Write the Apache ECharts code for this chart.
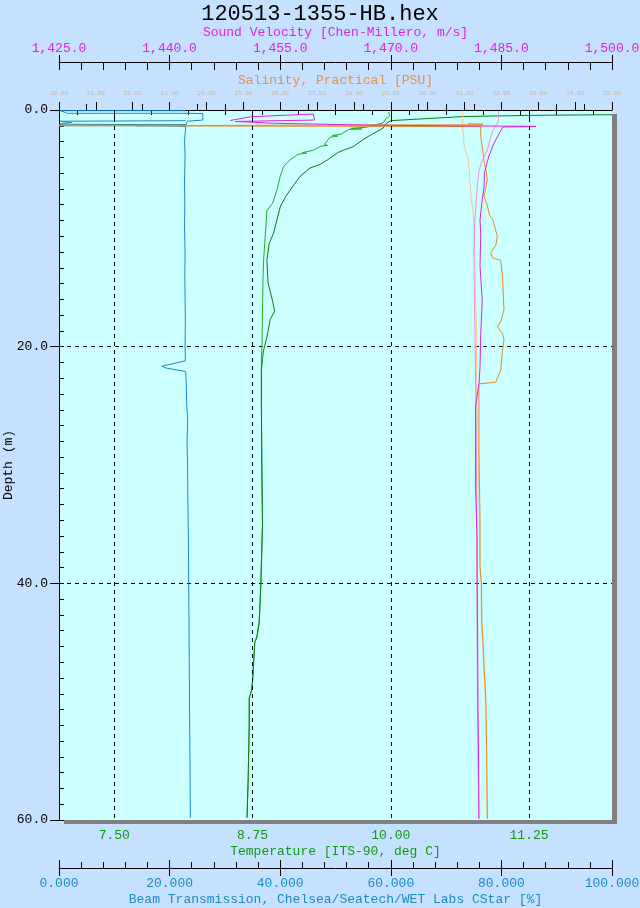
<!DOCTYPE html>
<html><head><meta charset="utf-8">
<script src="https://cdn.jsdelivr.net/npm/echarts@6/dist/echarts.min.js"></script>
<style>html,body{margin:0;padding:0;background:#c6e0ff}#c{width:640px;height:908px}</style>
</head><body><div id="c"></div><script>
// ---------- data: [value, depth(m)] ----------
const tempDown = [[9.98,0.15],[9.99,0.5],[9.96,0.7],[9.93,1.1],[9.78,1.45],[9.64,1.55],[9.74,1.6],[9.62,1.65],[9.55,2.05],[9.47,2.15],[9.52,2.2],[9.45,2.3],[9.40,2.9],[9.43,3.0],[9.37,3.05],[9.30,3.4],[9.20,3.6],[9.24,3.65],[9.16,3.75],[9.09,4.2],[9.03,4.8],[9.00,5.6],[8.97,6.8],[8.93,7.9],[8.88,8.5],[8.87,9.9],[8.86,11.3],[8.85,12.7],[8.845,14.1],[8.84,16.9],[8.836,19.7],[8.83,21],[8.83,22],[8.83,25],[8.834,30],[8.84,35],[8.825,40],[8.81,43.3],[8.79,44.5],[8.77,45],[8.75,48.3],[8.74,49.1],[8.72,49.7],[8.72,52],[8.71,56.7],[8.70,59.8]];
const tempUp = [[12.0,0.4],[11.3,0.45],[10.66,0.55],[10.0,0.9],[9.95,1.2],[9.93,1.54],[9.82,2.1],[9.75,2.5],[9.66,3.1],[9.57,3.4],[9.52,3.6],[9.43,4.2],[9.36,4.6],[9.27,4.9],[9.18,5.6],[9.11,6.5],[9.05,7.3],[9.00,8.2],[8.97,9.3],[8.94,10.4],[8.90,11.3],[8.88,12.7],[8.89,14.6],[8.93,16.1],[8.95,17.0],[8.91,17.7],[8.88,19.2],[8.85,20.3],[8.84,21],[8.83,22],[8.83,25],[8.834,30],[8.84,35],[8.825,40],[8.81,43.3],[8.79,44.5],[8.77,45],[8.75,48.3],[8.74,49.1],[8.72,49.7],[8.72,52],[8.71,56.7],[8.70,59.8]];
const beamDown = [[22.9,0.06],[0.3,0.06],[0.3,0.1],[1.5,0.28],[22.8,0.28],[23.0,0.2],[26.0,0.3],[26.0,0.85],[23.2,0.95],[22.9,1.3],[22.9,1.6],[22.7,2.5],[22.8,4],[22.7,6],[22.75,8],[22.7,10],[22.8,12],[22.75,14],[22.8,16],[22.85,18],[22.8,20],[22.85,21.2],[18.6,21.65],[19.3,21.8],[22.9,22.1],[23.0,23],[23.1,25],[23.25,26],[23.2,27.6],[23.15,28],[23.25,30],[23.3,33],[23.4,36],[23.45,40],[23.5,43],[23.55,46],[23.6,50],[23.65,53],[23.7,56],[23.75,59.8]];
const beamUp = [[22.9,0.9],[0.2,0.95],[2.3,1.05],[0.5,1.15],[0.1,1.2],[22.9,1.25],[22.9,1.33],[14.0,1.33],[21.0,1.36],[22.9,1.4]];
const salDown = [[31.1,1.15],[31.5,1.2],[31.3,1.25],[20.0,1.33],[31.44,1.4],[31.44,2.2],[31.49,3.4],[31.54,4.5],[31.58,5.0],[31.62,5.9],[31.53,7.3],[31.62,8.1],[31.68,8.9],[31.76,9.2],[31.89,10.7],[31.85,11.4],[31.71,12.1],[31.76,12.5],[31.98,12.7],[32.03,14.1],[32.07,16.9],[31.98,17.9],[31.89,18.3],[32.03,18.9],[32.07,19.4],[32.03,20.3],[31.98,22.0],[31.85,23.0],[31.89,23.1],[31.39,23.15],[31.39,28.7],[31.42,34.4],[31.42,38.6],[31.46,40],[31.47,43.4],[31.50,44.8],[31.53,47],[31.58,49.9],[31.60,54.1],[31.62,59.9]];
const salUp = [[30.94,0.05],[30.96,0.8],[30.94,1.3],[30.97,2.0],[30.99,3.1],[31.03,3.5],[31.08,3.9],[31.12,4.8],[31.15,6.2],[31.19,7.6],[31.23,8.5],[31.26,10.4],[31.29,13.2],[31.30,16.1],[31.33,18.9],[31.32,23.1],[31.37,28],[31.40,34],[31.41,38],[31.45,40],[31.46,43],[31.49,45],[31.52,47],[31.57,50],[31.59,54],[31.61,59.9]];
const svDown = [[1448.2,0.89],[1451.0,0.57],[1459.5,0.34],[1459.65,0.85],[1448.9,0.97],[1454.1,1.12],[1466.3,1.27],[1476.8,1.33],[1489.7,1.38],[1485.2,1.44],[1484.7,2.0],[1484.0,2.8],[1483.3,3.9],[1482.7,5.3],[1482.65,6.5],[1482.4,7.6],[1482.2,8.7],[1482.1,9.3],[1482.2,10.4],[1482.1,13.2],[1482.4,16.1],[1482.2,18.9],[1482.1,21.7],[1481.97,23.1],[1481.5,25],[1481.5,27],[1481.5,32],[1481.7,36],[1481.72,40],[1481.78,45],[1481.82,50],[1481.9,55],[1481.95,59.9]];
const svUp = [[1484.6,0.1],[1484.6,0.85],[1484.47,1.1],[1483.8,1.8],[1483.46,2.5],[1483.1,3.4],[1482.43,4.2],[1481.97,5.1],[1481.76,6.2],[1481.6,7.6],[1481.39,9.3],[1481.28,12],[1481.35,16],[1481.45,20],[1481.52,24],[1481.6,28],[1481.65,32],[1481.66,38],[1481.7,45],[1481.76,50],[1481.83,55],[1481.95,59.9]];
// ---------- tick labels ----------
const tempMajor = [7.5, 8.75, 10, 11.25];
const tempMinor = [7.25,7.75,8.0,8.25,8.5,9.0,9.25,9.5,9.75,10.25,10.5,10.75,11.0,11.5,11.75];
const salHalf = [20.5,21.5,22.5,23.5,24.5,25.5,26.5,27.5,28.5,29.5,30.5,31.5,32.5,33.5,34.5];
const depthMinor = [0,1.3333,2.6667,4,5.3333,6.6667,8,9.3333,10.6667,12,13.3333,14.6667,16,17.3333,18.6667,20,21.3333,22.6667,24,25.3333,26.6667,28,29.3333,30.6667,32,33.3333,34.6667,36,37.3333,38.6667,40,41.3333,42.6667,44,45.3333,46.6667,48,49.3333,50.6667,52,53.3333,54.6667,56,57.3333,58.6667,60];

const F = 'Liberation Mono';
const BLK = '#000';
const C_T = '#109a10', C_B = '#1a8ac0', C_SV = '#e020e0', C_S = '#e8903a';
const fmtSV = v => { const s = v.toFixed(1); const p = s.split('.'); return p[0].replace(/\B(?=(\d{3})+(?!\d))/g, ',') + '.' + p[1]; };
const tl = {color: BLK, width: 1};
function noAx(o){ return Object.assign({type:'value', axisLine:{show:false}, axisLabel:{show:false}, splitLine:{show:false}}, o); }

const chart = echarts.init(document.getElementById('c'), null, {renderer:'canvas'});
chart.setOption({
  animation: false,
  backgroundColor: '#c6e0ff',
  title: {text: '120513-1355-HB.hex', left: 'center', top: -2, textStyle: {fontFamily: F, fontSize: 22, fontWeight: 'normal', color: BLK}},
  grid: {left: 59, right: 28, top: 110, bottom: 88, containLabel: false, outerBoundsMode: 'none',
         show: true, backgroundColor: '#ccffff', borderWidth: 0,
         shadowColor: '#808080', shadowOffsetX: 5, shadowOffsetY: 4, shadowBlur: 0},
  xAxis: [
    {type:'value', position:'bottom', min:7, max:12, axisLine:{show:false},
     axisTick:{show:true, inside:false, length:8, customValues: tempMajor, lineStyle: tl},
     axisLabel:{customValues: tempMajor, formatter: v => v.toFixed(2), color: C_T, fontFamily: F, fontSize: 13, margin: 9},
     splitLine:{show:false}, name:'Temperature [ITS-90, deg C]', nameLocation:'middle', nameGap: 25, nameMoveOverlap: false,
     nameTextStyle:{color: C_T, fontFamily: F, fontSize: 13}},
    noAx({position:'bottom', min:7, max:12, axisTick:{show:true, inside:true, length:6, customValues: tempMinor, lineStyle: tl}}),
    {type:'value', position:'bottom', offset:48, min:0, max:100, interval:20,
     axisLine:{show:true, lineStyle: tl}, axisTick:{show:true, inside:true, length:8, lineStyle: tl},
     minorTick:{show:true, splitNumber:5, length:6, lineStyle: tl},
     axisLabel:{formatter: v => v.toFixed(3), color: C_B, fontFamily: F, fontSize: 13, margin: 9},
     splitLine:{show:false}, name:'Beam Transmission, Chelsea/Seatech/WET Labs CStar [%]', nameLocation:'middle', nameGap: 25, nameMoveOverlap: false,
     nameTextStyle:{color: C_B, fontFamily: F, fontSize: 13}},
    noAx({position:'bottom', offset:48, min:0, max:100, interval:20, axisTick:{show:true, inside:false, length:8, lineStyle: tl}}),
    {type:'value', position:'top', offset:48, min:1425, max:1500, interval:15,
     axisLine:{show:true, lineStyle: tl}, axisTick:{show:true, inside:true, length:8, lineStyle: tl},
     minorTick:{show:true, splitNumber:5, length:8, lineStyle: tl},
     axisLabel:{formatter: fmtSV, color: C_SV, fontFamily: F, fontSize: 13, margin: 7},
     splitLine:{show:false}, name:'Sound Velocity [Chen-Millero, m/s]', nameLocation:'middle', nameGap: 23, nameMoveOverlap: false,
     nameTextStyle:{color: C_SV, fontFamily: F, fontSize: 13}},
    noAx({position:'top', offset:48, min:1425, max:1500, interval:15, axisTick:{show:true, inside:false, length:7, lineStyle: tl}}),
    {type:'value', position:'top', min:20, max:35, interval:1,
     axisLine:{show:true, lineStyle: tl}, axisTick:{show:true, inside:false, length:8, lineStyle: tl},
     axisLabel:{formatter: v => v.toFixed(2), color: '#c8b49c', fontFamily: F, fontSize: 6, margin: 14},
     splitLine:{show:false}, name:'Salinity, Practical [PSU]', nameLocation:'middle', nameGap: 23, nameMoveOverlap: false,
     nameTextStyle:{color: C_S, fontFamily: F, fontSize: 13}},
    noAx({position:'top', min:20, max:35, axisTick:{show:true, inside:true, length:5, customValues: salHalf, lineStyle: tl}})
  ],
  yAxis: [
    {type:'value', inverse:true, min:0, max:60, interval:20, position:'left',
     axisLine:{show:true, lineStyle: tl}, axisTick:{show:true, inside:false, length:9, lineStyle: tl},
     axisLabel:{formatter: v => v.toFixed(1), color: BLK, fontFamily: F, fontSize: 13, margin: 11},
     splitLine:{show:true, showMinLine:false, showMaxLine:false, lineStyle:{type:[4,4], color: BLK, width: 1}},
     name:'Depth (m)', nameLocation:'middle', nameGap: 44, nameMoveOverlap: false,
     nameTextStyle:{color: BLK, fontFamily: F, fontSize: 13}},
    noAx({inverse:true, min:0, max:60, position:'left', axisTick:{show:true, inside:true, length:5, customValues: depthMinor, lineStyle: tl}})
  ],
  series: [
    {name:'tempDown', type:'line', xAxisIndex:0, yAxisIndex:0, data: tempDown, showSymbol:false, symbol:'none',
     lineStyle:{color:'#22b022', width:1},
     markLine:{silent:true, symbol:'none', label:{show:false}, animation:false,
       lineStyle:{type:[4,4], color: BLK, width:1}, data: tempMajor.map(v => ({xAxis: v}))}},
    {name:'tempUp', type:'line', xAxisIndex:0, yAxisIndex:0, data: tempUp, showSymbol:false, symbol:'none', lineStyle:{color:'#0c7c14', width:1}},
    {name:'beamUp', type:'line', xAxisIndex:2, yAxisIndex:0, data: beamUp, showSymbol:false, symbol:'none', lineStyle:{color:'#2a8ab0', width:1}},
    {name:'beamDown', type:'line', xAxisIndex:2, yAxisIndex:0, data: beamDown, showSymbol:false, symbol:'none', lineStyle:{color:'#1a86d4', width:1}},
    {name:'salUp', type:'line', xAxisIndex:6, yAxisIndex:0, data: salUp, showSymbol:false, symbol:'none', lineStyle:{color:'#f6c890', width:1}},
    {name:'salDown', type:'line', xAxisIndex:6, yAxisIndex:0, data: salDown, showSymbol:false, symbol:'none', lineStyle:{color:'#e08c2c', width:1}},
    {name:'svUp', type:'line', xAxisIndex:4, yAxisIndex:0, data: svUp, showSymbol:false, symbol:'none', lineStyle:{color:'#f090d0', width:1}},
    {name:'svDown', type:'line', xAxisIndex:4, yAxisIndex:0, data: svDown, showSymbol:false, symbol:'none', lineStyle:{color:'#e020e0', width:1}}
  ]
});
</script></body></html>
